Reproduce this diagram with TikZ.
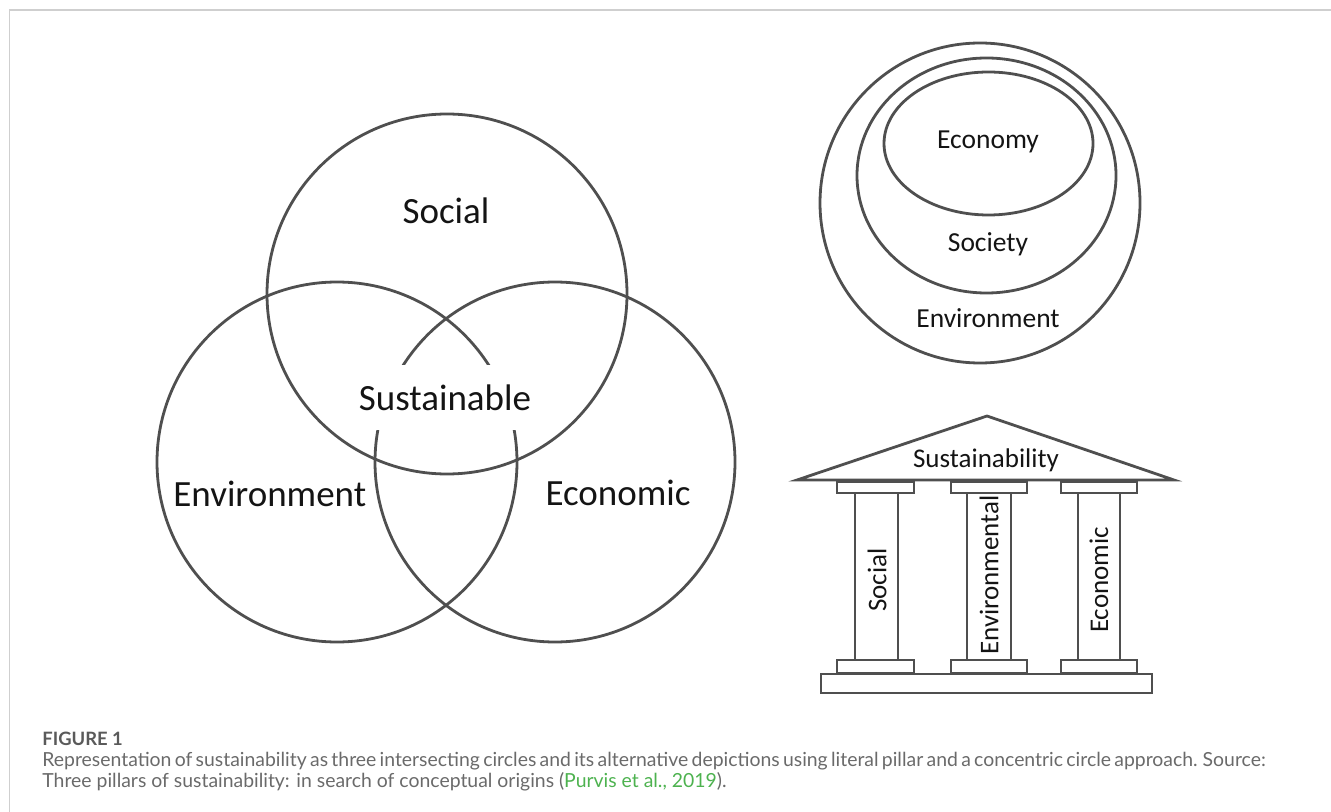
\documentclass[tikz,border=0pt]{standalone}
\usepackage{fontspec}
\setmainfont{Carlito}
\newfontfamily\capfont{Lato}
\definecolor{linegray}{HTML}{4F4F4F}
\definecolor{ink}{HTML}{141414}
\definecolor{rulegray}{HTML}{CFCFCF}
\definecolor{captext}{HTML}{6A6A6A}
\definecolor{capdark}{HTML}{5A5A5A}
\definecolor{refgreen}{HTML}{4DB24F}

\begin{document}
\begin{tikzpicture}[x=0.5pt, y=-0.5pt,
		ring/.style={draw=linegray, line width=1.4pt},
		part/.style={draw=linegray, line width=1.4pt, fill=white},
		venn label/.style={font=\fontsize{18.5}{20}\selectfont, text=ink, inner sep=0pt},
		ring label/.style={font=\fontsize{13.75}{15}\selectfont, text=ink, inner sep=0pt},
		pillar label/.style={font=\fontsize{13.5}{15}\selectfont, text=ink, inner sep=0pt},
		caption/.style={font=\capfont\fontsize{9.7}{11}\selectfont, text=captext, inner sep=0pt, anchor=base west}]
		\useasboundingbox (0,0) rectangle (1331,812);
		% frame lines
		\draw[rulegray, line width=1pt] (9,10) -- (1331,10);
		\draw[rulegray, line width=0.5pt] (9,10) -- (9,812);
		% three intersecting circles
		\draw[ring] (447,294) circle [radius=180];
		\draw[ring] (337,462) circle [radius=180];
		\draw[ring] (555,462) circle [radius=180];
		\node[venn label, anchor=base] (social) at (446,224) {Social};
		\node[venn label, anchor=base west] (environment) at (173,506) {Environment};
		\node[venn label, anchor=base east] (economic) at (691,505) {Economic};
		% the middle label blanks out the arcs behind it
		\node[venn label, anchor=base, fill=white, minimum height=32.5pt, inner xsep=1pt] (sustainable) at (445,410) {Sustainable};
		% nested circles
		\draw[ring] (980,203) circle [radius=160];
		\draw[ring] (986.5,175.5) ellipse [x radius=129.5, y radius=117.5];
		\draw[ring] (988.5,143.5) ellipse [x radius=104.5, y radius=71.5];
		\node[ring label, anchor=base] (economy) at (988,149) {Economy};
		\node[ring label, anchor=base] (society) at (988,252) {Society};
		\node[ring label, anchor=base] (surroundings) at (988,328) {Environment};
		% roof
		\draw[part] (797,480) -- (987,416) -- (1174,480) -- cycle;
		\node[pillar label, anchor=base] (roof) at (986,467) {Sustainability};
		% capitals
		\draw[part] (837,482) rectangle (914,493);
		\draw[part] (951,482) rectangle (1027,493);
		\draw[part] (1061,482) rectangle (1137,493);
		% columns
		\draw[part] (855,493) rectangle (898,660);
		\draw[part] (967,493) rectangle (1011,660);
		\draw[part] (1078,493) rectangle (1120,660);
		% bases
		\draw[part] (837,660) rectangle (914,673);
		\draw[part] (951,660) rectangle (1027,673);
		\draw[part] (1061,660) rectangle (1137,673);
		% plinth
		\draw[part] (821,674) rectangle (1152,693);
		\node[pillar label, rotate=90] (col social) at (877,580) {Social};
		\node[pillar label, rotate=90] (col environmental) at (989,575) {Environmental};
		\node[pillar label, rotate=90] (col economic) at (1099,580) {Economic};
		% caption
		\node[caption, font=\capfont\bfseries\fontsize{9.2}{11}\selectfont, text=capdark] (figno) at (42,745) {FIGURE 1};
		\node[caption] (capline one) at (42,766) {\spaceskip=0.17em\relax Representation of sustainability as three intersecting circles and its alternative depictions using literal pillar and a concentric circle approach. Source:};
		\node[caption] (capline two) at (42,787) {Three pillars of sustainability: in search of conceptual origins (\textcolor{refgreen}{Purvis et al., 2019}).};
	\end{tikzpicture}
\end{document}
